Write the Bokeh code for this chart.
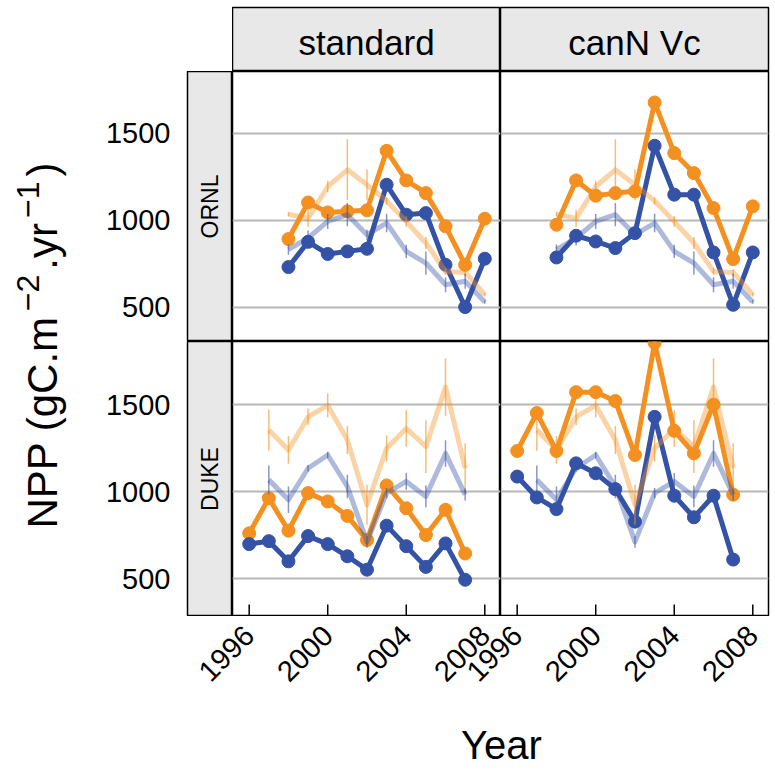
from math import pi

from bokeh.plotting import figure
from bokeh.layouts import row, column
from bokeh.models import Range1d, Label, Spacer, CustomJSTickFormatter
from bokeh.embed import file_html
from bokeh.resources import INLINE

FONT = "Liberation Sans"
ORANGE = "#F39020"
BLUE = "#3553A6"
GRID = "#B8B8B8"
STRIP = "#E8E8E8"

# ---------------------------------------------------------------- data
sites = ["ORNL", "DUKE"]
setups = ["standard", "canN Vc"]

x_ticks = [1996, 2000, 2004, 2008]
y_ticks = [500, 1000, 1500]

ornl_years = [1998, 1999, 2000, 2001, 2002, 2003, 2004, 2005, 2006, 2007, 2008]
duke_years = [1996, 1997, 1998, 1999, 2000, 2001, 2002, 2003, 2004, 2005, 2006, 2007]
duke_obs_years = [1997, 1998, 1999, 2000, 2001, 2002, 2003, 2004, 2005, 2006, 2007]

# observed NPP (mean and spread), same in both set-ups
ornl_obs_orange = [1034, 1010, 1193, 1289, 1203, 1110, 992, 868, 705, 699, 571]
ornl_obs_orange_sd = [12, 50, 33, 175, 89, 20, 30, 35, 20, 20, 10]
ornl_obs_blue = [830, 897, 992, 1031, 916, 983, 820, 753, 628, 648, 529]
ornl_obs_blue_sd = [29, 43, 43, 67, 29, 53, 38, 67, 43, 43, 10]

duke_obs_orange = [1354, 1240, 1430, 1496, 1297, 925, 1249, 1363, 1259, 1601, 1135]
duke_obs_orange_sd = [118, 80, 48, 70, 80, 115, 76, 105, 152, 165, 143]
duke_obs_blue = [1068, 954, 1135, 1211, 1030, 712, 992, 1059, 973, 1220, 983]
duke_obs_blue_sd = [82, 76, 19, 19, 67, 34, 29, 48, 62, 76, 34]

# simulated NPP
ornl_standard_orange = [891, 1101, 1044, 1050, 1056, 1398, 1228, 1155, 964, 743, 1008]
ornl_standard_blue = [730, 875, 805, 820, 835, 1203, 1031, 1040, 743, 500, 778]
ornl_canN_orange = [973, 1228, 1140, 1155, 1165, 1676, 1385, 1270, 1069, 776, 1079]
ornl_canN_blue = [785, 910, 877, 839, 925, 1427, 1146, 1146, 814, 513, 814]

duke_standard_orange = [761, 963, 776, 992, 944, 861, 722, 1036, 905, 751, 896, 645]
duke_standard_blue = [699, 716, 600, 745, 699, 629, 552, 805, 687, 568, 703, 494]
duke_canN_orange = [1234, 1452, 1234, 1572, 1572, 1521, 1211, 1855, 1350, 1220, 1500, 983]
duke_canN_blue = [1087, 967, 900, 1163, 1106, 1015, 828, 1430, 977, 853, 977, 610]

obs = {
    "ORNL": (ornl_years, ornl_obs_orange, ornl_obs_orange_sd, ornl_obs_blue, ornl_obs_blue_sd),
    "DUKE": (duke_obs_years, duke_obs_orange, duke_obs_orange_sd, duke_obs_blue, duke_obs_blue_sd),
}
model = {
    ("ORNL", "standard"): (ornl_years, ornl_standard_orange, ornl_standard_blue),
    ("ORNL", "canN Vc"): (ornl_years, ornl_canN_orange, ornl_canN_blue),
    ("DUKE", "standard"): (duke_years, duke_standard_orange, duke_standard_blue),
    ("DUKE", "canN Vc"): (duke_years, duke_canN_orange, duke_canN_blue),
}

# ---------------------------------------------------------------- layout
COL_W = 268
RIGHT_PAD = 7
ROW_H = [270, 275]
AXIS_H = 100
YEAR_H = 55
LEFT_STRIP_W = 45
LEFT_AXIS_W = 92
TITLE_W = 95
TOP_STRIP_H = 64
TOP_PAD = 7

X_LO, X_HI = 1995.15, 2008.8
x_range = Range1d(X_LO, X_HI)
y_ranges = [Range1d(302, 1854), Range1d(283, 1863)]


def base_fig(width, height, xr, yr, **kw):
    opts = dict(x_axis_location=None, y_axis_location=None,
                min_border_left=0, min_border_right=0,
                min_border_top=0, min_border_bottom=0)
    opts.update(kw)
    p = figure(width=width, height=height, x_range=xr, y_range=yr,
               output_backend="svg", toolbar_location=None, tools="", **opts)
    p.xgrid.visible = False
    p.ygrid.visible = False
    p.outline_line_color = None
    p.background_fill_color = "white"
    p.border_fill_color = "white"
    return p


def panel(r, c):
    site, setup = sites[r], setups[c]
    yr = y_ranges[r]
    p = base_fig(COL_W + (RIGHT_PAD if c == 1 else 0), ROW_H[r], x_range, yr,
                 min_border_right=RIGHT_PAD if c == 1 else 0)
    p.outline_line_color = "black"
    p.outline_line_width = 1.5
    p.ygrid.visible = True
    p.ygrid.ticker = y_ticks
    p.ygrid.grid_line_color = GRID
    p.ygrid.grid_line_width = 2

    if r == 1:
        # short inward year ticks standing on the bottom edge
        p.ray(x=x_ticks, y=[yr.start] * len(x_ticks), length=12, angle=pi / 2,
              length_units="screen", line_color="black", line_width=1.5)

    # simulated series
    yrs, m_orange, m_blue = model[(site, setup)]
    for vals, colr in ((m_orange, ORANGE), (m_blue, BLUE)):
        p.line(yrs, vals, line_color=colr, line_width=5, line_join="round")
        p.scatter(yrs, vals, size=13, fill_color=colr, line_color=colr)

    # observed series with spread
    oyrs, o_orange, o_orange_sd, o_blue, o_blue_sd = obs[site]
    for vals, sd, colr in ((o_orange, o_orange_sd, ORANGE), (o_blue, o_blue_sd, BLUE)):
        lo = [v - s for v, s in zip(vals, sd)]
        hi = [v + s for v, s in zip(vals, sd)]
        p.segment(oyrs, lo, oyrs, hi, line_color=colr, line_width=1.5, line_alpha=0.6)
        p.line(oyrs, vals, line_color=colr, line_width=5, line_alpha=0.4, line_join="round")
    return p


def top_strip(c):
    p = base_fig(COL_W + (RIGHT_PAD if c == 1 else 0), TOP_STRIP_H + TOP_PAD,
                 Range1d(0, 1), Range1d(0, 1),
                 min_border_top=TOP_PAD, min_border_right=RIGHT_PAD if c == 1 else 0)
    p.background_fill_color = STRIP
    p.outline_line_color = "black"
    p.outline_line_width = 1.5
    p.add_layout(Label(x=0.5, y=0.45, text=setups[c], text_align="center",
                       text_baseline="middle", text_font=FONT,
                       text_font_size="35px", text_color="black"))
    return p


def left_strip(r):
    yr = y_ranges[r]
    p = base_fig(LEFT_AXIS_W + LEFT_STRIP_W, ROW_H[r], Range1d(0, 1), yr,
                 y_axis_location="left", min_border_left=LEFT_AXIS_W)
    p.background_fill_color = STRIP
    p.outline_line_color = "black"
    p.outline_line_width = 1.5
    ax = p.yaxis[0]
    ax.ticker = y_ticks
    ax.axis_line_color = None
    ax.major_tick_in = 0
    ax.major_tick_out = 0
    ax.minor_tick_line_color = None
    ax.major_label_standoff = 17
    ax.major_label_text_font = FONT
    ax.major_label_text_font_size = "29px"
    ax.major_label_text_color = "black"
    p.add_layout(Label(x=0.5, y=(yr.start + yr.end) / 2, text=sites[r],
                       angle=pi / 2, text_align="center", text_baseline="middle",
                       text_font=FONT, text_font_size="23px", text_color="black"))
    return p


def year_axis_row():
    # one axis under both panel columns; the second column's years are
    # offset by one panel span and relabelled back
    span = X_HI - X_LO
    p = base_fig(LEFT_AXIS_W + LEFT_STRIP_W + 2 * COL_W + RIGHT_PAD, AXIS_H,
                 Range1d(X_LO, X_LO + 2 * span), Range1d(0, 1),
                 x_axis_location="below",
                 min_border_left=LEFT_AXIS_W + LEFT_STRIP_W, min_border_right=RIGHT_PAD,
                 min_border_bottom=AXIS_H - 1)
    ax = p.xaxis[0]
    ax.ticker = x_ticks + [t + span for t in x_ticks]
    ax.formatter = CustomJSTickFormatter(
        code=f"return String(Math.round(tick > {X_HI} ? tick - {span} : tick));")
    ax.axis_line_color = None
    ax.major_tick_in = 0
    ax.major_tick_out = 0
    ax.minor_tick_line_color = None
    ax.major_label_orientation = pi / 4
    ax.major_label_standoff = 13
    ax.major_label_text_font = FONT
    ax.major_label_text_font_size = "29px"
    ax.major_label_text_color = "black"
    return p


# Arial / Liberation Sans advance widths (em) for the y title pieces
ADV = {"N": 0.722, "P": 0.667, " ": 0.278, "(": 0.333, ")": 0.333, "g": 0.556,
       "C": 0.722, ".": 0.278, "m": 0.833, "y": 0.5, "r": 0.333,
       "\u2212": 0.584, "1": 0.556, "2": 0.556}


def text_len(s, size):
    return sum(ADV[ch] for ch in s) * size


body_h = ROW_H[0] + ROW_H[1]
ytitle = base_fig(TITLE_W, body_h, Range1d(0, TITLE_W), Range1d(0, body_h))
BASE, SUP, GAP = 42, 32, 5
BASE_X, SUP_X = 42, 27  # centre lines of the normal and raised pieces
pieces = [("NPP (gC.m", BASE, 0, 0), ("\u22122", SUP, GAP, GAP),
          (".yr", BASE, 0, 0), ("\u22121", SUP, GAP, GAP), (")", BASE, 0, 0)]
pos = body_h - (528 - (TOP_STRIP_H + TOP_PAD))  # lower end of the title
for txt, size, pre, post in pieces:
    pos += pre
    ytitle.add_layout(Label(x=BASE_X if size == BASE else SUP_X, y=pos, text=txt,
                            angle=pi / 2, text_align="left", text_baseline="middle",
                            text_font=FONT, text_font_size=f"{size}px",
                            text_color="black"))
    pos += text_len(txt, size) + post

year_w = 2 * COL_W + RIGHT_PAD
xtitle = base_fig(year_w, YEAR_H, Range1d(0, year_w), Range1d(0, YEAR_H))
xtitle.add_layout(Label(x=269, y=27, text="Year", text_align="center",
                        text_baseline="middle", text_font=FONT,
                        text_font_size="40px", text_color="black"))

left_w = TITLE_W + LEFT_AXIS_W + LEFT_STRIP_W
layout = column(
    row(Spacer(width=left_w, height=TOP_STRIP_H + TOP_PAD), top_strip(0), top_strip(1), spacing=0),
    row(ytitle,
        column(row(left_strip(0), panel(0, 0), panel(0, 1), spacing=0),
               row(left_strip(1), panel(1, 0), panel(1, 1), spacing=0), spacing=0),
        spacing=0),
    row(Spacer(width=TITLE_W, height=AXIS_H), year_axis_row(), spacing=0),
    row(Spacer(width=left_w, height=YEAR_H), xtitle, spacing=0),
    spacing=0,
)

open("out.html", "w").write(file_html(layout, INLINE))
